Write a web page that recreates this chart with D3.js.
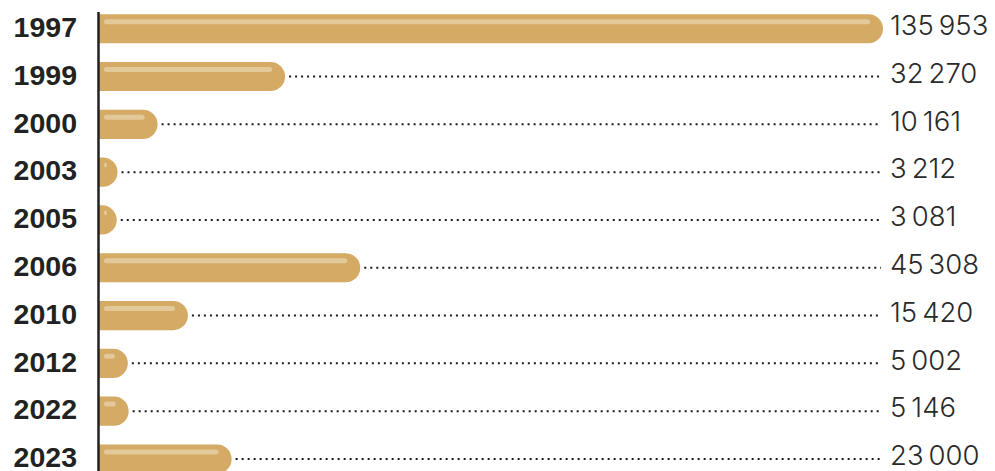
<!DOCTYPE html>
<html>
<head>
<meta charset="utf-8">
<script src="https://cdn.jsdelivr.net/npm/d3@7"></script>
<style>
  html, body { margin: 0; padding: 0; background: #fff; }
  svg { display: block; }
</style>
</head>
<body>
<svg id="canvas" width="995" height="471"></svg>
<script>
let years = ['1997', '1999', '2000', '2003', '2005', '2006', '2010', '2012', '2022', '2023']
let values = [135953, 32270, 10161, 3212, 3081, 45308, 15420, 5002, 5146, 23000]

let barColor = '#d4aa64'
let shineColor = '#e3c99a'

let canvas = d3.select('#canvas')

let locale = d3.formatLocale({ decimal: ',', thousands: '\u202f', grouping: [3], currency: ['', ''] })
let fmt = locale.format(',d')

let xScale = d3.scaleLinear().domain([0, d3.max(values)]).range([99, 883])
let yScale = d3.scaleBand().domain(years).range([4.6, 483.1]).paddingInner(0.39).paddingOuter(0.2)

let rows = years.map((y, i) => ({ year: y, value: values[i] }))
let bh = yScale.bandwidth()

// rounded-right bar: flat against the axis, round cap at the end
let barPath = (d) => {
    let x0 = xScale(0)
    let x1 = xScale(d.value)
    let w = x1 - x0
    let r = bh / 2
    let rx = Math.min(r, w)
    let y0 = yScale(d.year)
    return `M${x0},${y0} H${x1 - rx} A${rx},${r} 0 0 1 ${x1 - rx},${y0 + bh} H${x0} Z`
}

// dotted leaders
canvas.selectAll('line.leader')
    .data(rows.filter(d => xScale(d.value) < 870))
    .enter()
    .append('line')
    .attr('class', 'leader')
    .attr('x1', d => xScale(d.value) + 4)
    .attr('x2', 881)
    .attr('y1', d => yScale(d.year) + bh / 2)
    .attr('y2', d => yScale(d.year) + bh / 2)
    .attr('stroke', '#1a1a1a')
    .attr('stroke-width', 2)
    .attr('stroke-dasharray', '2,4')

canvas.selectAll('path.bar')
    .data(rows)
    .enter()
    .append('path')
    .attr('class', 'bar')
    .attr('d', barPath)
    .attr('fill', barColor)

// shine strip near the top of each bar
canvas.selectAll('rect.shine')
    .data(rows)
    .enter()
    .append('rect')
    .attr('class', 'shine')
    .attr('x', 104)
    .attr('y', d => yScale(d.year) + 5)
    .attr('width', d => Math.max(107, xScale(d.value) - 13) - 104)
    .attr('height', 5)
    .attr('rx', 2.5)
    .attr('fill', shineColor)

// axis line
canvas.append('line')
    .attr('x1', 98.5)
    .attr('x2', 98.5)
    .attr('y1', 12)
    .attr('y2', 471)
    .attr('stroke', '#222')
    .attr('stroke-width', 2.5)

canvas.selectAll('text.year')
    .data(rows)
    .enter()
    .append('text')
    .attr('class', 'year')
    .attr('x', 77)
    .attr('y', d => yScale(d.year) + bh / 2)
    .attr('dy', '0.29em')
    .attr('text-anchor', 'end')
    .attr('font-family', 'Liberation Sans, Arial, sans-serif')
    .attr('font-weight', 'bold')
    .attr('font-size', 28.5)
    .attr('fill', '#222')
    .text(d => d.year)

canvas.selectAll('text.value')
    .data(rows)
    .enter()
    .append('text')
    .attr('class', 'value')
    .attr('x', 890)
    .attr('y', d => yScale(d.year) + bh / 2)
    .attr('dy', '0.23em')
    .attr('font-family', 'Inter, sans-serif')
    .attr('font-weight', 300)
    .attr('font-size', 27.5)
    .attr('fill', '#2a2a2a')
    .text(d => fmt(d.value))
</script>
</body>
</html>
